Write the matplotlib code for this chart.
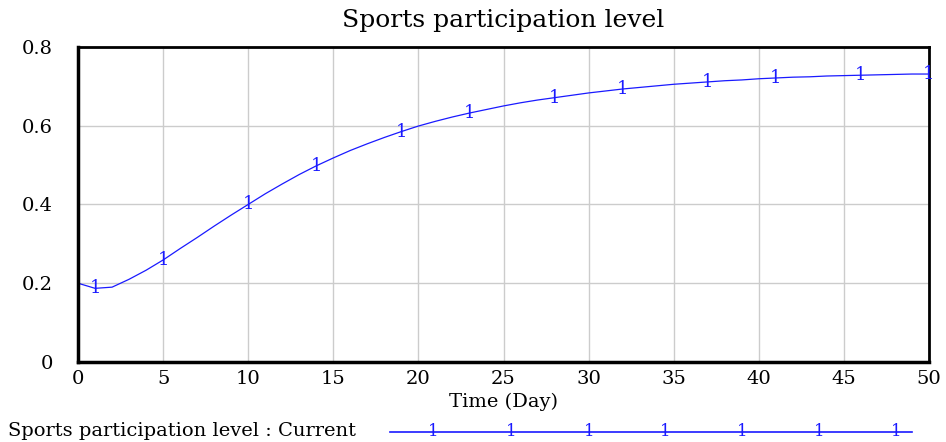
import matplotlib.pyplot as plt
import numpy as np

# Sports participation level over time (read from the Vensim output)
time = list(range(0, 51))
level = [0.200, 0.187, 0.190, 0.210, 0.233, 0.259, 0.288, 0.316, 0.345, 0.373,
         0.400, 0.427, 0.452, 0.476, 0.498, 0.518, 0.537, 0.554, 0.570, 0.585,
         0.599, 0.611, 0.622, 0.632, 0.641, 0.650, 0.658, 0.665, 0.671, 0.677,
         0.683, 0.688, 0.693, 0.697, 0.701, 0.705, 0.708, 0.711, 0.714, 0.716,
         0.719, 0.721, 0.723, 0.724, 0.726, 0.727, 0.728, 0.729, 0.730, 0.731,
         0.731]
marker_times = [1, 5, 10, 14, 19, 23, 28, 32, 37, 41, 46, 50]
x_ticks = [0, 5, 10, 15, 20, 25, 30, 35, 40, 45, 50]
y_ticks = [0, 0.2, 0.4, 0.6, 0.8]
y_labels = ['0', '0.2', '0.4', '0.6', '0.8']

plt.rcParams['font.family'] = ['DejaVu Serif']
blue = '#1a1aff'

fig = plt.figure(figsize=(9.46, 4.42), dpi=100)
ax = fig.add_axes([0.0825, 0.181, 0.8995, 0.713])

ax.plot(time, level, color=blue, lw=0.9)
for t in marker_times:
    ax.text(t, level[time.index(t)], '1', color=blue, fontsize=13,
            ha='center', va='center')

ax.set_xlim(0, 50)
ax.set_ylim(0, 0.8)
ax.set_xticks(x_ticks)
ax.set_yticks(y_ticks)
ax.set_yticklabels(y_labels)
ax.grid(True, color='#cccccc', lw=1)
ax.tick_params(length=0, labelsize=14)
ax.tick_params(axis='y', pad=18)
ax.tick_params(axis='x', pad=6)
for side in ['left', 'bottom']:
    ax.spines[side].set_linewidth(2.5)
for side in ['top', 'right']:
    ax.spines[side].set_linewidth(2)

ax.set_title('Sports participation level', fontsize=18, pad=14)
ax.set_xlabel('Time (Day)', fontsize=14, labelpad=3)

# legend row at the bottom
fig.text(0.008, 0.026, 'Sports participation level : Current', fontsize=14,
         ha='left', va='center')
fig.add_artist(plt.Line2D([0.412, 0.964], [0.023, 0.023], color=blue, lw=1.2))
legend_x = [433, 511, 589, 665, 742, 819, 896]
for lx in legend_x:
    fig.text(lx / 946, 0.023, '1', color=blue, fontsize=12,
             ha='center', va='center')

fig.savefig('out.png', dpi=100)
